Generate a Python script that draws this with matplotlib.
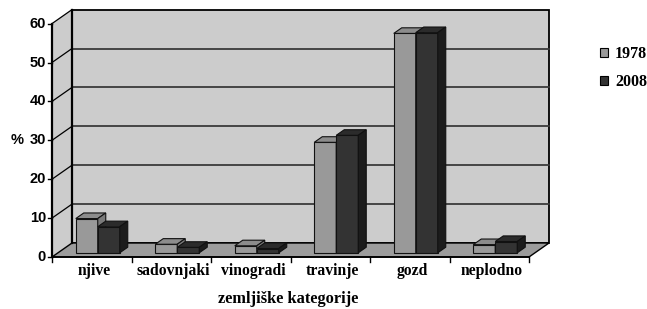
import matplotlib
matplotlib.use("Agg")
import matplotlib.pyplot as plt
from matplotlib.patches import Polygon, Patch

categories = ["njive", "sadovnjaki", "vinogradi", "travinje", "gozd", "neplodno"]
years = ["1978", "2008"]
share_1978 = [8.8, 2.2, 1.8, 28.4, 56.4, 2.1]
share_2008 = [6.7, 1.4, 1.1, 30.2, 56.6, 2.9]
y_ticks = [0, 10, 20, 30, 40, 50, 60]

front_cols = ["#999999", "#333333"]
top_cols = ["#8c8c8c", "#2b2b2b"]
side_cols = ["#7a7a7a", "#1c1c1c"]

W, H = 647, 309
fig = plt.figure(figsize=(W / 100, H / 100), dpi=100)
ax = fig.add_axes([0, 0, 1, 1])
ax.axis("off")

# pixel layout of the "3d" box
PX0, PXC = 52, 79.5          # front left edge, px per category
PY0, PYU = 257, 3.89         # front zero line (from top), px per unit
n = len(categories)
ax.set_xlim(-PX0 / PXC - 0.5, (W - PX0) / PXC - 0.5)
ax.set_ylim(-(H - PY0) / PYU, PY0 / PYU)
DX, DY = 20 / PXC, 14 / PYU   # depth offset in data units
ymax = y_ticks[-1]
L, R = -0.5, n - 0.5

# walls and floor
ax.add_patch(Polygon([(L + DX, DY), (R + DX, DY), (R + DX, ymax + DY), (L + DX, ymax + DY)],
                     fc="#cccccc", ec="black", lw=1.3, zorder=1))
ax.add_patch(Polygon([(L, 0), (L, ymax), (L + DX, ymax + DY), (L + DX, DY)],
                     fc="#cccccc", ec="none", zorder=1))
ax.add_patch(Polygon([(L, 0), (R, 0), (R + DX, DY), (L + DX, DY)],
                     fc="#9c9c9c", ec="black", lw=1.0, zorder=2))
for v in y_ticks[1:-1]:
    ax.plot([L + DX, R + DX], [v + DY, v + DY], color="#3a3a3a", lw=1.3, zorder=2)
for v in y_ticks[1:]:
    ax.plot([L, L + DX], [v, v + DY], color="black", lw=0.9, zorder=2)
ax.plot([L + DX, L + DX], [DY, ymax + DY], color="black", lw=1.6, zorder=2)
ax.plot([L, L], [0, ymax], color="black", lw=1.6, zorder=3)
ax.plot([L, R], [0, 0], color="black", lw=1.3, zorder=3)

# ticks
tx = 4 / PXC
ty = 5 / PYU
for v in y_ticks:
    ax.plot([L - tx, L], [v, v], color="black", lw=1.0, zorder=3)
    ax.text(L - 6 / PXC, v, str(v), ha="right", va="center", fontsize=10.5,
            fontweight="bold", family="Liberation Sans")
for b in range(n + 1):
    ax.plot([L + b, L + b], [0, -ty], color="black", lw=1.0, zorder=3)
for i, c in enumerate(categories):
    ax.text(i + 0.03, -3.7, c, ha="center", va="center", fontsize=11.3,
            fontweight="bold", family="Liberation Serif")
ax.text((L + R) / 2 - 0.03, -10.8, "zemljiške kategorije", ha="center", va="center",
        fontsize=11.8, fontweight="bold", family="Liberation Serif")
ax.text(L - 35 / PXC, 30, "%", ha="center", va="center", fontsize=10.5,
        fontweight="bold", family="Liberation Sans")

# bars
f, d = 0.3, 0.4
bw = 22 / PXC
for i in range(n):
    for j, vals in enumerate([share_1978, share_2008]):
        h = vals[i]
        xl = i - bw + j * bw + f * DX
        b = f * DY
        z = 5 + i * 2 + j
        ax.bar(xl, h, width=bw, bottom=b, align="edge", color=front_cols[j],
               edgecolor="#111111", lw=0.8, zorder=z)
        ax.add_patch(Polygon([(xl, b + h), (xl + bw, b + h), (xl + bw + d * DX, b + h + d * DY),
                              (xl + d * DX, b + h + d * DY)], fc=top_cols[j], ec="#111111",
                             lw=0.8, zorder=z))
        ax.add_patch(Polygon([(xl + bw, b), (xl + bw, b + h), (xl + bw + d * DX, b + h + d * DY),
                              (xl + bw + d * DX, b + d * DY)], fc=side_cols[j], ec="#111111",
                             lw=0.8, zorder=z))

handles = [Patch(fc=front_cols[k], ec="black", lw=0.8) for k in range(2)]
leg = ax.legend(handles, years, loc="upper left", bbox_to_anchor=(600 / W, 1 - 46 / H),
                frameon=False, handlelength=0.5, handleheight=0.5, handletextpad=0.45,
                labelspacing=0.78, borderaxespad=0, borderpad=0,
                prop={"family": "Liberation Serif", "weight": "bold", "size": 11.5})

fig.savefig("out.png", dpi=100)
